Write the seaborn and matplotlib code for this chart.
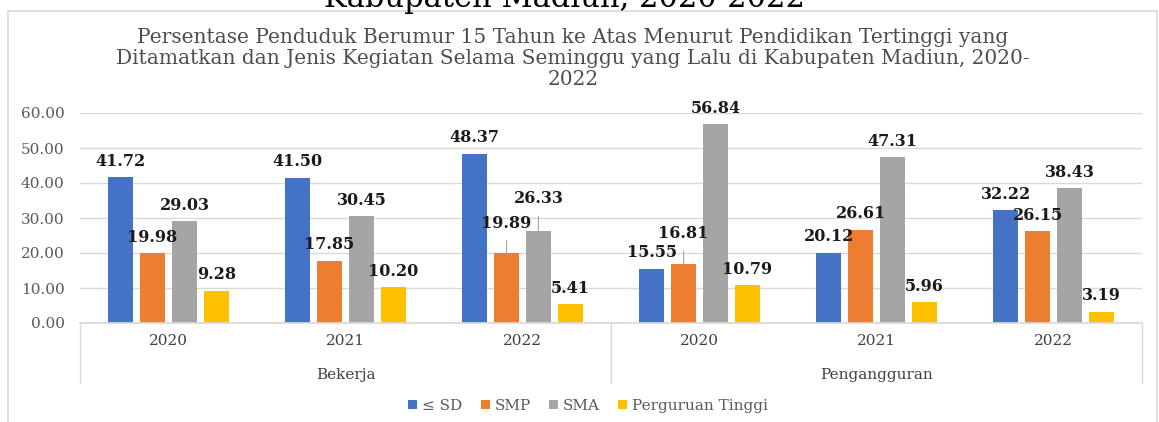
import pandas as pd
import matplotlib.pyplot as plt
import seaborn as sns
from matplotlib.patches import Rectangle

# Data
groups = ["Bekerja", "Pengangguran"]
years = ["2020", "2021", "2022"]
levels = ["≤ SD", "SMP", "SMA", "Perguruan Tinggi"]
sd = [41.72, 41.50, 48.37, 15.55, 20.12, 32.22]
smp = [19.98, 17.85, 19.89, 16.81, 26.61, 26.15]
sma = [29.03, 30.45, 26.33, 56.84, 47.31, 38.43]
pt = [9.28, 10.20, 5.41, 10.79, 5.96, 3.19]

colors = ["#4472C4", "#ED7D31", "#A5A5A5", "#FFC000"]
title = ("Persentase Penduduk Berumur 15 Tahun ke Atas Menurut Pendidikan Tertinggi yang\n"
         "Ditamatkan dan Jenis Kegiatan Selama Seminggu yang Lalu di Kabupaten Madiun, 2020-\n"
         "2022")

# long table
cats = [f"{g} {y}" for g in groups for y in years]
rows = []
for lvl, vals in zip(levels, [sd, smp, sma, pt]):
    for c, v in zip(cats, vals):
        rows.append({"kategori": c, "pendidikan": lvl, "persen": v})
df = pd.DataFrame(rows)

sns.set_theme(style="white")
plt.rcParams["font.family"] = ["DejaVu Serif", "DejaVu Sans"]

fig = plt.figure(figsize=(11.59, 4.22), dpi=100)
ax = fig.add_axes([80 / 1159, 1 - 323 / 422, (1142 - 80) / 1159, 210 / 422])

sns.barplot(data=df, x="kategori", y="persen", hue="pendidikan", order=cats,
            hue_order=levels, palette=colors, saturation=1, width=0.72, gap=0.22,
            linewidth=0, ax=ax)

ax.set_ylim(0, 60)
ax.set_xlim(-0.5, 5.5)
ax.set_yticks(range(0, 61, 10))
ax.set_yticklabels([f"{t:.2f}" for t in range(0, 61, 10)])
ax.yaxis.grid(True, color="#d9d9d9", lw=1)
ax.set_axisbelow(True)
ax.tick_params(axis="y", length=0, pad=11, labelsize=11, labelcolor="#595959")
ax.set_xticks(range(6))
ax.set_xticklabels(years * 2)
ax.tick_params(axis="x", length=0, pad=8, labelsize=11, labelcolor="#404040")
ax.set_xlabel("")
ax.set_ylabel("")
for s in ["top", "right", "left"]:
    ax.spines[s].set_visible(False)
ax.spines["bottom"].set_color("#d9d9d9")

# group labels and separators of the category axis
trans = ax.get_xaxis_transform()
for i, g in enumerate(groups):
    ax.text(1 + 3 * i, -52 / 210, g, transform=trans, ha="center", va="center",
            fontsize=11, color="#404040")
for xv in [-0.5, 2.5, 5.5]:
    ax.plot([xv, xv], [0, -60 / 210], transform=trans, color="#d9d9d9", lw=1, clip_on=False)

# data labels, some moved up with leader lines
leader = {(2, 1): 21.5, (2, 2): 23, (3, 1): 22}
for j, cont in enumerate(ax.containers):
    for i, bar in enumerate(cont):
        h = bar.get_height()
        xc = bar.get_x() + bar.get_width() / 2
        off = leader.get((i, j), 11.5)
        arrow = None
        if (i, j) in leader:
            arrow = dict(arrowstyle="-", color="#a6a6a6", lw=0.8, shrinkA=4, shrinkB=0)
        ax.annotate(f"{h:.2f}", xy=(xc, h), xytext=(0, off), textcoords="offset points",
                    ha="center", va="center", fontsize=11.5, fontweight="bold",
                    color="#1a1a1a", arrowprops=arrow, annotation_clip=False)

ax.legend(loc="center", bbox_to_anchor=((588 - 80) / 1062, (-(406 - 323)) / 210), ncol=4,
          frameon=False, fontsize=11, handlelength=0.6, handleheight=0.6, handletextpad=0.3,
          columnspacing=1.2, labelcolor="#595959")

fig.text(573 / 1159, 1 - 58.5 / 422, title, ha="center", va="center", fontsize=14.5,
         color="#4d4d4d", linespacing=1.12, multialignment="center")
fig.text(565 / 1159, 1 - 7 / 422, "Kabupaten Madiun, 2020-2022", ha="center",
         va="baseline", fontsize=22, color="black")

fig.patches.append(Rectangle((8 / 1159, -0.02), (1157 - 8) / 1159, (422 - 11) / 422 + 0.02,
                             transform=fig.transFigure, fill=False, edgecolor="#d9d9d9", lw=1.2))

fig.savefig("out.png", dpi=100)
plt.close()
